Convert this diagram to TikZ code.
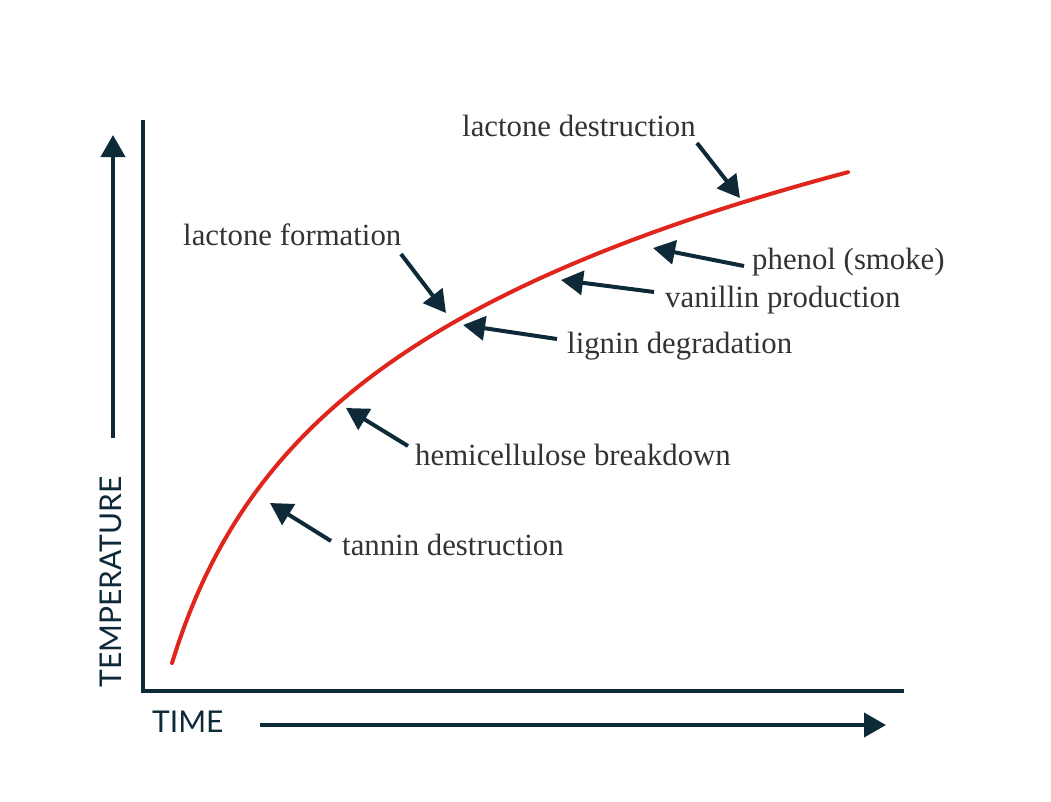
\documentclass[tikz,border=0pt]{standalone}
\usepackage{fontspec}
\setmainfont{Liberation Serif}
\newfontfamily\axisfont{Lato}
\usetikzlibrary{arrows.meta}
\definecolor{navy}{HTML}{0E2A38}
\definecolor{curvered}{HTML}{E0261C}
\definecolor{txt}{HTML}{333333}
\tikzset{
  axisline/.style={navy, line width=4pt},
  dirarrow/.style={navy, line width=4pt, -{Triangle[length=22pt,width=24pt]}},
  ptr/.style={navy, line width=4pt, -{Triangle[length=22pt,width=24pt]}},
  lbl/.style={txt, anchor=base west, inner sep=0pt, font=\fontsize{30.8}{36}\selectfont},
  axlbl/.style={navy, inner sep=0pt, font=\axisfont\fontsize{30}{35}\selectfont},
  curve/.style={curvered, line width=4pt, line cap=round},
}
\begin{document}
\begin{tikzpicture}[x=1pt,y=-1pt]
\useasboundingbox (0,0) rectangle (1051,801);
% axes
\coordinate (ytop) at (143,120);
\coordinate (ybot) at (143,693);
\coordinate (xstart) at (141,691);
\coordinate (xend) at (904,691);
\draw[axisline] (ytop) -- (ybot);
\draw[axisline] (xstart) -- (xend);
% direction arrows
\coordinate (ya) at (113,438);
\coordinate (yb) at (113,135);
\draw[dirarrow] (ya) -- (yb);
\coordinate (xa) at (260,725);
\coordinate (xb) at (886,725);
\draw[dirarrow] (xa) -- (xb);
\node[axlbl, rotate=90] (temp) at (111,582) {TEMPERATURE};
\node[axlbl, anchor=west] (time) at (152,722) {TIME};
% curve
\draw[curve, domain=172:848, samples=120] plot (\x, {663-195.8*ln(1+(\x-172)/60)});
% labels
\node[lbl] (tannin) at (342,555) {tannin destruction};
\node[lbl] (hemi) at (415,465) {hemicellulose breakdown};
\node[lbl] (lignin) at (567,353) {lignin degradation};
\node[lbl] (vanillin) at (665,307) {vanillin production};
\node[lbl] (phenol) at (752,269) {phenol (smoke)};
\node[lbl] (lform) at (183,245) {lactone formation};
\node[lbl] (ldest) at (462,136) {lactone destruction};
% pointer coordinates
\coordinate (s1) at (331,541); \coordinate (t1) at (270,503);
\coordinate (s2) at (408,446); \coordinate (t2) at (346,408);
\coordinate (s3) at (557,339); \coordinate (t3) at (463,325);
\coordinate (s4) at (654,292); \coordinate (t4) at (561,280);
\coordinate (s5) at (744,266); \coordinate (t5) at (653,248);
\coordinate (s6) at (401,254); \coordinate (t6) at (446,313);
\coordinate (s7) at (697,143); \coordinate (t7) at (740,198);
\draw[ptr] (s1) -- (t1);
\draw[ptr] (s2) -- (t2);
\draw[ptr] (s3) -- (t3);
\draw[ptr] (s4) -- (t4);
\draw[ptr] (s5) -- (t5);
\draw[ptr] (s6) -- (t6);
\draw[ptr] (s7) -- (t7);
\end{tikzpicture}
\end{document}
